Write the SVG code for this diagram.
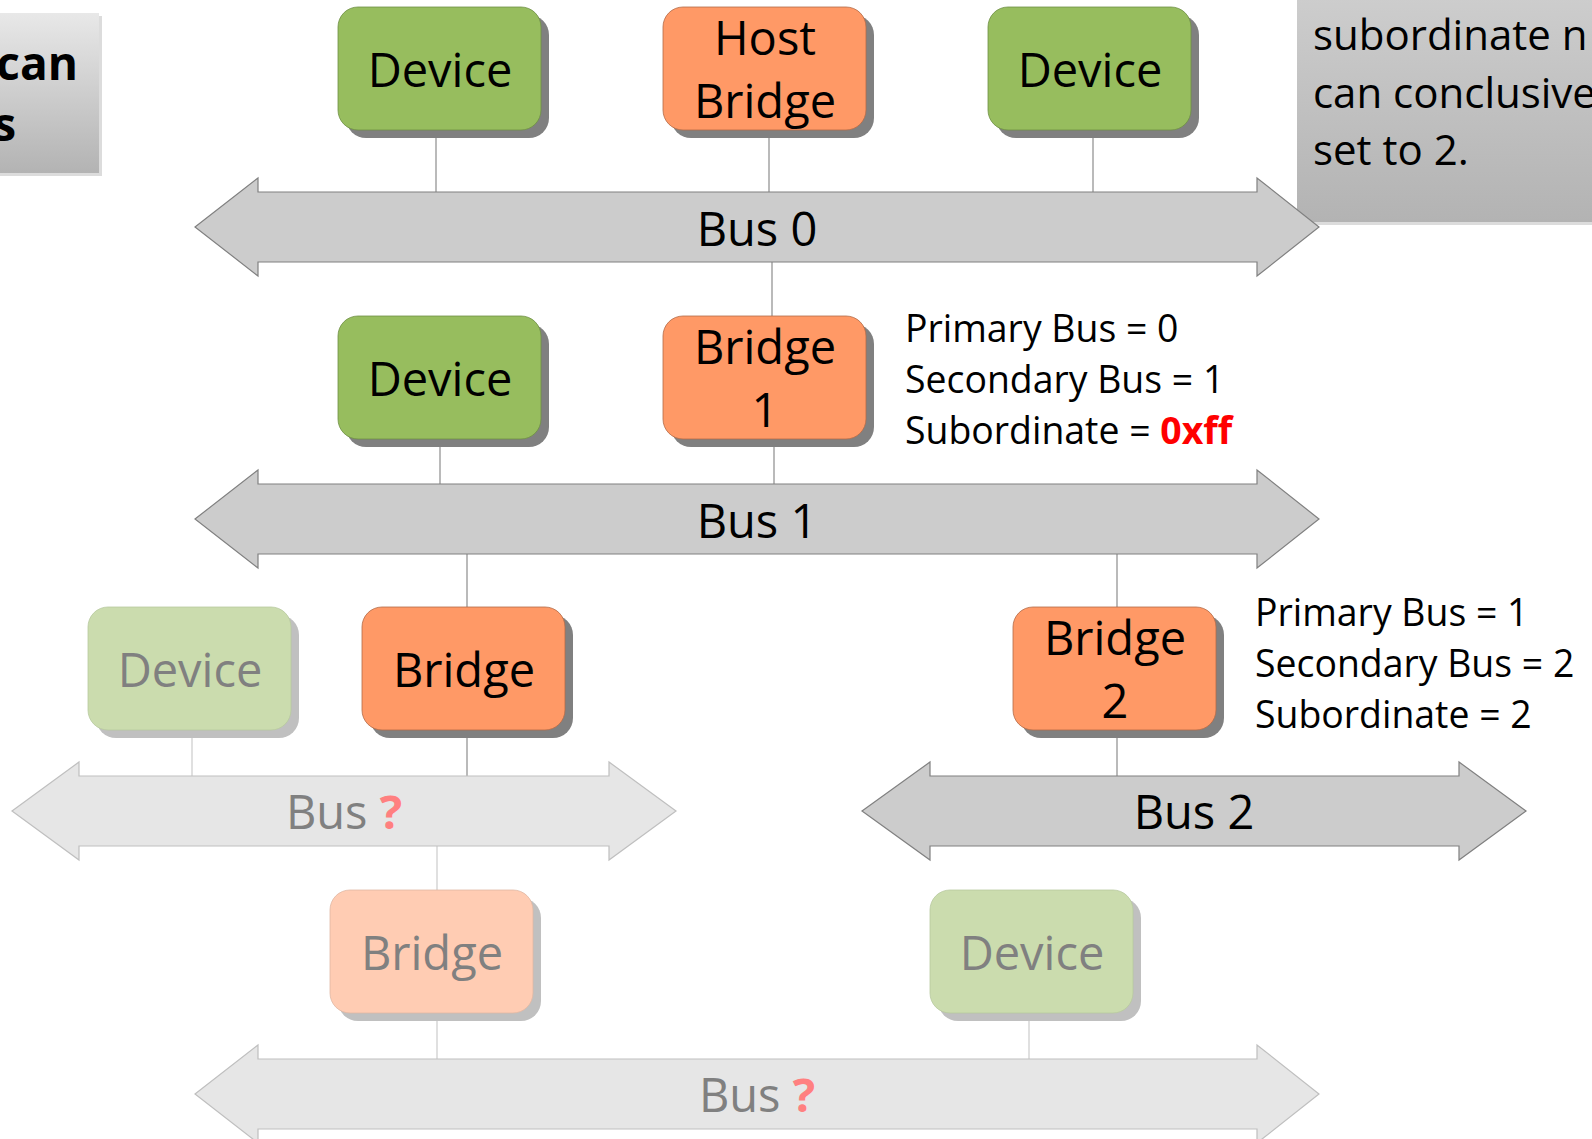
<svg xmlns="http://www.w3.org/2000/svg" width="1592" height="1139" viewBox="0 0 1592 1139">
<defs>
<linearGradient id="gl" x1="0" y1="0" x2="0" y2="1"><stop offset="0" stop-color="#e8e8e8"/><stop offset="1" stop-color="#b3b3b3"/></linearGradient>
<linearGradient id="gr" x1="0" y1="0" x2="0" y2="1"><stop offset="0" stop-color="#cfcfcf"/><stop offset="1" stop-color="#b3b3b3"/></linearGradient>
</defs>
<style>
text{font-family:"Open Sans","Noto Sans","DejaVu Sans",sans-serif;}
.t{font-size:47px;fill:#000;text-anchor:middle;}
.tf{font-size:47px;fill:#808080;text-anchor:middle;}
.ann{font-size:37.4px;fill:#000;}
.note{font-size:42px;fill:#000;}
.noteb{font-size:46px;font-weight:bold;fill:#000;text-anchor:end;}
.red{fill:#ff0000;font-weight:bold;}
.q{fill:#ff8080;font-weight:bold;}
.sh{fill:#808080;}
.shf{fill:#c0c0c0;}
.g{fill:#97bd5e;stroke:#6f8f45;stroke-width:0.8;}
.o{fill:#ff9966;stroke:#b36b47;stroke-width:0.8;}
.gf{fill:#cbdcae;stroke:#b8c9a0;stroke-width:0.8;}
.of{fill:#ffccb3;stroke:#e0b8a3;stroke-width:0.8;}
.bus{fill:#cccccc;stroke:#808080;stroke-width:1.2;}
.busf{fill:#e6e6e6;stroke:#bfbfbf;stroke-width:1.2;}
.ln{stroke:#8c8c8c;stroke-width:1.2;fill:none;}
.lnf{stroke:#cccccc;stroke-width:1.2;fill:none;}
</style>

<g id="note-left">
<rect x="-10" y="16" width="112" height="160" fill="#dcdcdc"/>
<rect x="-10" y="13" width="109" height="160" fill="url(#gl)"/>
<text class="noteb" x="78" y="80">can</text>
<text class="noteb" x="16" y="141">s</text>
</g>

<g id="note-right">
<rect x="1300" y="-20" width="300" height="245" fill="#dcdcdc"/>
<rect x="1297" y="-20" width="300" height="242" fill="url(#gr)"/>
<text class="note" x="1313" y="50">subordinate n</text>
<text class="note" x="1313" y="108">can conclusive</text>
<text class="note" x="1313" y="165">set to 2.</text>
</g>

<g id="connectors">
<line class="ln" x1="436" y1="130" x2="436" y2="192"/>
<line class="ln" x1="769" y1="130" x2="769" y2="192"/>
<line class="ln" x1="1093" y1="130" x2="1093" y2="192"/>
<line class="ln" x1="772" y1="262" x2="772" y2="316"/>
<line class="ln" x1="440" y1="439" x2="440" y2="484"/>
<line class="ln" x1="774" y1="439" x2="774" y2="484"/>
<line class="ln" x1="467" y1="554" x2="467" y2="607"/>
<line class="ln" x1="1117" y1="554" x2="1117" y2="607"/>
<line class="lnf" x1="192" y1="731" x2="192" y2="776"/>
<line class="ln" x1="467" y1="731" x2="467" y2="776"/>
<line class="ln" x1="1117" y1="731" x2="1117" y2="776"/>
<line class="lnf" x1="437" y1="846" x2="437" y2="890"/>
<line class="lnf" x1="437" y1="1013" x2="437" y2="1059"/>
<line class="lnf" x1="1029" y1="1013" x2="1029" y2="1059"/>
</g>

<g id="bus0">
<path class="bus" d="M195,227 L258,178 L258,192 L1257,192 L1257,178 L1319,227 L1257,276 L1257,262 L258,262 L258,276 Z"/>
<text class="t" x="757" y="246">Bus 0</text>
</g>
<g id="bus1">
<path class="bus" d="M195,519 L258,470 L258,484 L1257,484 L1257,470 L1319,519 L1257,568 L1257,554 L258,554 L258,568 Z"/>
<text class="t" x="757" y="538">Bus 1</text>
</g>
<g id="bus-q-left">
<path class="busf" d="M12,811 L79,762 L79,776 L609,776 L609,762 L676,811 L609,860 L609,846 L79,846 L79,860 Z"/>
<text class="tf" x="344" y="829">Bus <tspan class="q">?</tspan></text>
</g>
<g id="bus2">
<path class="bus" d="M862,811 L930,762 L930,776 L1459,776 L1459,762 L1526,811 L1459,860 L1459,846 L930,846 L930,860 Z"/>
<text class="t" x="1194" y="829">Bus 2</text>
</g>
<g id="bus-q-bottom">
<path class="busf" d="M195,1094 L258,1045 L258,1059 L1257,1059 L1257,1045 L1319,1094 L1257,1143 L1257,1129 L258,1129 L258,1143 Z"/>
<text class="tf" x="757" y="1112">Bus <tspan class="q">?</tspan></text>
</g>

<g id="device-top-left">
<rect class="sh" x="346" y="15" width="203" height="123" rx="20"/>
<rect class="g" x="338" y="7" width="203" height="123" rx="20"/>
<text class="t" x="440" y="87">Device</text>
</g>
<g id="host-bridge">
<rect class="sh" x="671" y="15" width="203" height="123" rx="20"/>
<rect class="o" x="663" y="7" width="203" height="123" rx="20"/>
<text class="t" x="765" y="55">Host</text>
<text class="t" x="765" y="118">Bridge</text>
</g>
<g id="device-top-right">
<rect class="sh" x="996" y="15" width="203" height="123" rx="20"/>
<rect class="g" x="988" y="7" width="203" height="123" rx="20"/>
<text class="t" x="1090" y="87">Device</text>
</g>

<g id="device-mid">
<rect class="sh" x="346" y="324" width="203" height="123" rx="20"/>
<rect class="g" x="338" y="316" width="203" height="123" rx="20"/>
<text class="t" x="440" y="396">Device</text>
</g>
<g id="bridge1">
<rect class="sh" x="671" y="324" width="203" height="123" rx="20"/>
<rect class="o" x="663" y="316" width="203" height="123" rx="20"/>
<text class="t" x="765" y="364">Bridge</text>
<text class="t" x="765" y="427">1</text>
</g>
<g id="bridge1-info">
<text class="ann" x="905" y="342">Primary Bus = 0</text>
<text class="ann" x="905" y="393">Secondary Bus = 1</text>
<text class="ann" x="905" y="444">Subordinate = <tspan class="red">0xff</tspan></text>
</g>

<g id="device-faded-left">
<rect class="shf" x="96" y="615" width="203" height="123" rx="20"/>
<rect class="gf" x="88" y="607" width="203" height="123" rx="20"/>
<text class="tf" x="190" y="687">Device</text>
</g>
<g id="bridge-left">
<rect class="sh" x="370" y="615" width="203" height="123" rx="20"/>
<rect class="o" x="362" y="607" width="203" height="123" rx="20"/>
<text class="t" x="464" y="687">Bridge</text>
</g>
<g id="bridge2">
<rect class="sh" x="1021" y="615" width="203" height="123" rx="20"/>
<rect class="o" x="1013" y="607" width="203" height="123" rx="20"/>
<text class="t" x="1115" y="655">Bridge</text>
<text class="t" x="1115" y="718">2</text>
</g>
<g id="bridge2-info">
<text class="ann" x="1255" y="626">Primary Bus = 1</text>
<text class="ann" x="1255" y="677">Secondary Bus = 2</text>
<text class="ann" x="1255" y="728">Subordinate = 2</text>
</g>

<g id="bridge-faded">
<rect class="shf" x="338" y="898" width="203" height="123" rx="20"/>
<rect class="of" x="330" y="890" width="203" height="123" rx="20"/>
<text class="tf" x="432" y="970">Bridge</text>
</g>
<g id="device-faded-bottom">
<rect class="shf" x="938" y="898" width="203" height="123" rx="20"/>
<rect class="gf" x="930" y="890" width="203" height="123" rx="20"/>
<text class="tf" x="1032" y="970">Device</text>
</g>
</svg>
